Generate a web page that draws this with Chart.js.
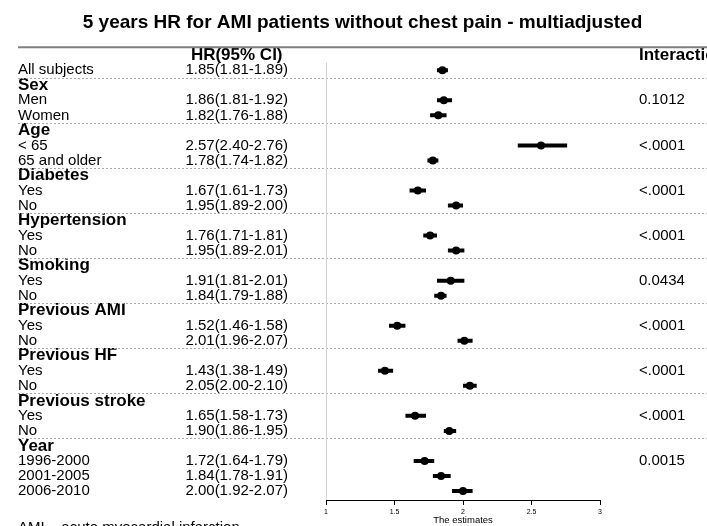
<!DOCTYPE html>
<html>
<head>
<meta charset="utf-8">
<script src="https://cdn.jsdelivr.net/npm/chart.js@4"></script>
<style>
  body { margin: 0; background: #fff; overflow: hidden; }
  .wrap { position: relative; width: 707px; height: 526px; }
  .note { position: absolute; left: 18px; top: 518px; font: 15px 'Liberation Sans', Arial, sans-serif; color: #000; white-space: nowrap; }
</style>
</head>
<body>
<div class="wrap">
  <canvas id="forest" width="707" height="526"></canvas>
  <div class="note">AMI – acute myocardial infarction</div>
</div>
<script>
// rows of the table, group headings have no HR
const rowLabels = ['All subjects', 'Sex', 'Men', 'Women', 'Age', '< 65', '65 and older',
  'Diabetes', 'Yes', 'No', 'Hypertension', 'Yes', 'No', 'Smoking', 'Yes', 'No',
  'Previous AMI', 'Yes', 'No', 'Previous HF', 'Yes', 'No', 'Previous stroke', 'Yes', 'No',
  'Year', '1996-2000', '2001-2005', '2006-2010'];
const hrValues = [1.85, null, 1.86, 1.82, null, 2.57, 1.78, null, 1.67, 1.95, null, 1.76, 1.95,
  null, 1.91, 1.84, null, 1.52, 2.01, null, 1.43, 2.05, null, 1.65, 1.90, null, 1.72, 1.84, 2.00];
const ciLower = [1.81, null, 1.81, 1.76, null, 2.40, 1.74, null, 1.61, 1.89, null, 1.71, 1.89,
  null, 1.81, 1.79, null, 1.46, 1.96, null, 1.38, 2.00, null, 1.58, 1.86, null, 1.64, 1.78, 1.92];
const ciUpper = [1.89, null, 1.92, 1.88, null, 2.76, 1.82, null, 1.73, 2.00, null, 1.81, 2.01,
  null, 2.01, 1.88, null, 1.58, 2.07, null, 1.49, 2.10, null, 1.73, 1.95, null, 1.79, 1.91, 2.07];
const interactionP = ['', '', '0.1012', '', '', '<.0001', '', '', '<.0001', '', '', '<.0001', '',
  '', '0.0434', '', '', '<.0001', '', '', '<.0001', '', '', '<.0001', '', '', '0.0015', '', ''];
const xTicks = [1, 1.5, 2, 2.5, 3];

const FONT = "'Liberation Sans', Arial, sans-serif";
Chart.defaults.font.family = FONT;
Chart.defaults.color = '#000';

const isHeading = v => v === -1 || (v >= 0 && hrValues[v] === null);
const fmt = n => n.toFixed(2);
const rowTicks = () => [-1].concat(rowLabels.map((_, i) => i)).map(v => ({ value: v }));
const tickFont = ctx => {
  const v = ctx.tick ? ctx.tick.value : 0;
  return isHeading(v) ? { size: 17, weight: 'bold' } : { size: 15 };
};

// one short line per confidence interval
const ciSets = [];
rowLabels.forEach((_, i) => {
  if (hrValues[i] === null) return;
  ciSets.push({
    data: [{ x: ciLower[i], y: i }, { x: ciUpper[i], y: i }],
    showLine: true,
    borderColor: '#000',
    borderWidth: 4,
    pointRadius: 0
  });
});
const pointSet = {
  data: rowLabels.map((_, i) => ({ x: hrValues[i], y: i })).filter(p => p.x !== null),
  pointRadius: 4,
  backgroundColor: '#000',
  borderWidth: 0
};

function rowAxis(position, weight, width, labelFn, crossAlign, padding) {
  return {
    type: 'linear',
    position: position,
    weight: weight,
    min: -1.53,
    max: 28.6,
    reverse: true,
    grid: { display: false, drawTicks: false },
    border: { display: false },
    afterBuildTicks: axis => { axis.ticks = rowTicks(); },
    afterFit: axis => {
      axis.width = width;
      axis.paddingTop = 0;
      axis.paddingBottom = 0;
    },
    ticks: {
      autoSkip: false,
      crossAlign: crossAlign,
      padding: padding,
      color: '#000',
      font: tickFont,
      callback: value => labelFn(value)
    }
  };
}

// table rules + reference line at HR = 1
const tableLines = {
  id: 'tableLines',
  beforeDatasetsDraw(chart) {
    const { ctx, chartArea, scales } = chart;
    const y = scales.y, x = scales.x;
    const left = y.left, right = chart.width;
    ctx.save();
    ctx.strokeStyle = '#808080';
    ctx.lineWidth = 2;
    ctx.beginPath();
    ctx.moveTo(left, chartArea.top);
    ctx.lineTo(right, chartArea.top);
    ctx.stroke();

    ctx.strokeStyle = '#a8a8a8';
    ctx.lineWidth = 1;
    ctx.setLineDash([2, 2]);
    rowLabels.forEach((_, i) => {
      if (hrValues[i] !== null) return;
      const py = Math.round(y.getPixelForValue(i - 0.5)) + 0.5;
      ctx.beginPath();
      ctx.moveTo(left, py);
      ctx.lineTo(right, py);
      ctx.stroke();
    });
    ctx.setLineDash([]);

    const px = Math.round(x.getPixelForValue(1)) + 0.5;
    ctx.strokeStyle = '#d0d0d0';
    ctx.beginPath();
    ctx.moveTo(px, y.getPixelForValue(-0.5));
    ctx.lineTo(px, chartArea.bottom);
    ctx.stroke();
    ctx.restore();
  }
};

new Chart(document.getElementById('forest'), {
  type: 'scatter',
  data: { datasets: ciSets.concat([pointSet]) },
  options: {
    responsive: false,
    animation: false,
    layout: { padding: { left: 18, right: 0, top: 0, bottom: 0 } },
    plugins: {
      legend: { display: false },
      tooltip: { enabled: false },
      title: {
        display: true,
        text: '5 years HR for AMI patients without chest pain - multiadjusted',
        color: '#000',
        font: { size: 19, weight: 'bold' },
        padding: { top: 11, bottom: 13.5 }
      }
    },
    scales: {
      x: {
        type: 'linear',
        min: 1,
        max: 3,
        afterBuildTicks: axis => { axis.ticks = xTicks.map(v => ({ value: v })); },
        afterFit: axis => { axis.height = 26; },
        grid: { drawOnChartArea: false, drawTicks: true, tickLength: 5, color: '#000' },
        border: { color: '#000', width: 1 },
        ticks: { font: { size: 7 }, padding: 3, color: '#000', callback: v => String(v) },
        title: { display: true, text: 'The estimates', font: { size: 9.5 }, padding: 0, color: '#000' }
      },
      y: rowAxis('left', 2, 166, v => v === -1 ? '' : rowLabels[v], 'far', 0),
      yHR: rowAxis('left', 1, 142, v => {
        if (v === -1) return 'HR(95% CI)';
        return hrValues[v] === null ? '' : fmt(hrValues[v]) + '(' + fmt(ciLower[v]) + '-' + fmt(ciUpper[v]) + ')';
      }, 'center', 38),
      yP: rowAxis('right', 1, 107, v => v === -1 ? 'Interaction' : interactionP[v], 'near', 39)
    }
  },
  plugins: [tableLines]
});
</script>
</body>
</html>
